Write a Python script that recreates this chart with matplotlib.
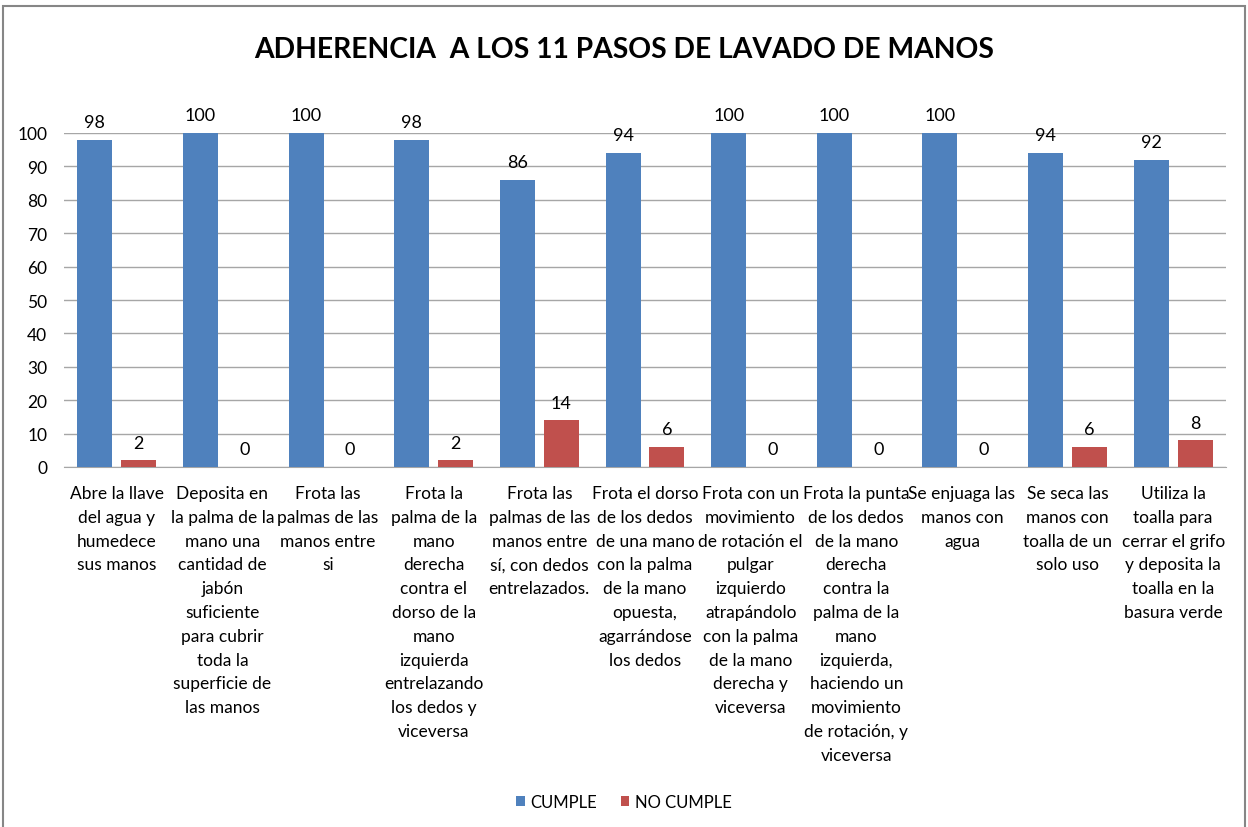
import matplotlib
matplotlib.use("Agg")
import matplotlib.pyplot as plt
import numpy as np
from matplotlib.patches import Rectangle

plt.rcParams['font.family'] = ['Lato', 'DejaVu Sans']

title = "ADHERENCIA  A LOS 11 PASOS DE LAVADO DE MANOS"
categories = [
    "Abre la llave\ndel agua y\nhumedece\nsus manos",
    "Deposita en\nla palma de la\nmano una\ncantidad de\njabón\nsuficiente\npara cubrir\ntoda la\nsuperficie de\nlas manos",
    "Frota las\npalmas de las\nmanos entre\nsi",
    "Frota la\npalma de la\nmano\nderecha\ncontra el\ndorso de la\nmano\nizquierda\nentrelazando\nlos dedos y\nviceversa",
    "Frota las\npalmas de las\nmanos entre\nsí, con dedos\nentrelazados.",
    "Frota el dorso\nde los dedos\nde una mano\ncon la palma\nde la mano\nopuesta,\nagarrándose\nlos dedos",
    "Frota con un\nmovimiento\nde rotación el\npulgar\nizquierdo\natrapándolo\ncon la palma\nde la mano\nderecha y\nviceversa",
    "Frota la punta\nde los dedos\nde la mano\nderecha\ncontra la\npalma de la\nmano\nizquierda,\nhaciendo un\nmovimiento\nde rotación, y\nviceversa",
    "Se enjuaga las\nmanos con\nagua",
    "Se seca las\nmanos con\ntoalla de un\nsolo uso",
    "Utiliza la\ntoalla para\ncerrar el grifo\ny deposita la\ntoalla en la\nbasura verde",
]
cumple = [98, 100, 100, 98, 86, 94, 100, 100, 100, 94, 92]
no_cumple = [2, 0, 0, 2, 14, 6, 0, 0, 0, 6, 8]
series_names = ["CUMPLE", "NO CUMPLE"]
yticks = [0, 10, 20, 30, 40, 50, 60, 70, 80, 90, 100]

BLUE = "#4F81BD"
RED = "#C0504D"

fig = plt.figure(figsize=(12.48, 8.28), dpi=100)
ax = fig.add_axes([64/1248, (828-468)/828, (1226-64)/1248, 334/828])

x = np.arange(len(categories))
w = 0.331
off = 0.208
b1 = ax.bar(x - off, cumple, w, color=BLUE, label=series_names[0], zorder=3)
b2 = ax.bar(x + off, no_cumple, w, color=RED, label=series_names[1], zorder=3)

for bars, vals in ((b1, cumple), (b2, no_cumple)):
    for r, v in zip(bars, vals):
        ax.annotate(str(v), (r.get_x() + r.get_width()/2, v),
                    xytext=(0, 7), textcoords="offset points",
                    ha="center", va="bottom", fontsize=13, color="#000000")

ax.set_xlim(-0.5, len(categories) - 0.5)
ax.set_ylim(0, 100)
ax.set_yticks(yticks)
ax.set_yticklabels([str(t) for t in yticks], fontsize=12.5)
ax.set_xticks(x)
ax.set_xticklabels(categories, fontsize=12.5, linespacing=1.6, va="top", ha="center")
ax.tick_params(axis="both", length=0)
ax.tick_params(axis="x", pad=13)
ax.tick_params(axis="y", pad=12)
ax.grid(axis="y", color="#A6A6A6", linewidth=1, zorder=0)
for s in ["top", "right", "left"]:
    ax.spines[s].set_visible(False)
ax.spines["bottom"].set_color("#A6A6A6")

fig.text(0.5, 1 - 50/828, title, ha="center", va="center", fontsize=20.3,
         fontweight="bold", family=["Lato", "DejaVu Sans"])

fig.legend(handles=[b1, b2], labels=series_names, loc="center",
           bbox_to_anchor=(0.5, 1 - 803/828), ncol=2, frameon=False,
           fontsize=12, handlelength=0.5, handleheight=0.5, columnspacing=1.4,
           handletextpad=0.35)

fig.patches.append(Rectangle((3/1248, -0.01), 1242/1248, 1 - 7/828 + 0.01,
                             transform=fig.transFigure, fill=False,
                             edgecolor="#868686", linewidth=1.5))

fig.savefig("out.png", dpi=100, facecolor="white")
